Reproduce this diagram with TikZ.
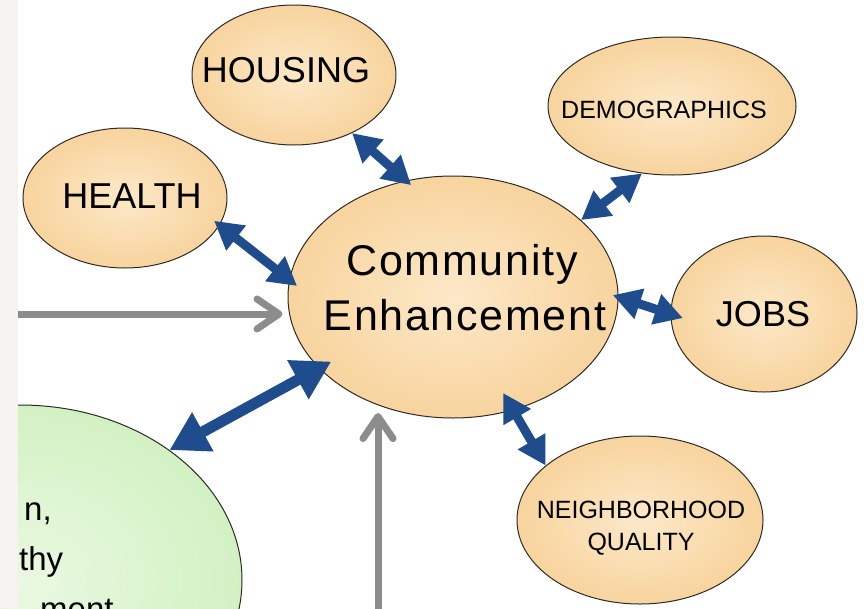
\documentclass[tikz,border=0pt]{standalone}
\usepackage{fontspec}
\setmainfont{Liberation Sans}
\usetikzlibrary{arrows.meta,shapes.geometric}
\definecolor{peachO}{HTML}{F8D49E}
\definecolor{peachI}{HTML}{FCE8C8}
\definecolor{greenO}{HTML}{D2F1C2}
\definecolor{greenI}{HTML}{EAF9E2}
\definecolor{blueA}{HTML}{1F4C8C}
\definecolor{greyA}{HTML}{8C8C8C}
\definecolor{stripC}{HTML}{F5F3F0}
\definecolor{edgeC}{HTML}{2E2A26}
\begin{document}
\begin{tikzpicture}[x=1pt,y=-1pt,
  bubble/.style={ellipse, draw=edgeC, line width=1pt, inner sep=0pt,
    shade, inner color=peachI, outer color=peachO},
  gbubble/.style={ellipse, draw=edgeC, line width=1pt, inner sep=0pt,
    shade, inner color=greenI, outer color=greenO},
  bigtxt/.style={anchor=base, inner sep=0pt, font=\fontsize{36}{40}\selectfont},
  smalltxt/.style={anchor=base, inner sep=0pt, font=\fontsize{25}{28}\selectfont},
  cetxt/.style={anchor=base, inner sep=0pt, font=\fontsize{43}{46}\selectfont\addfontfeatures{LetterSpace=4}},
  gtxt/.style={anchor=base west, inner sep=0pt, font=\fontsize{33}{36}\selectfont},
  barrow/.style={draw=blueA, line width=9pt, {Triangle[length=28pt,width=30pt]}-{Triangle[length=28pt,width=30pt]}},
  bigarrow/.style={draw=blueA, line width=11pt, {Triangle[length=38pt,width=42pt]}-{Triangle[length=38pt,width=42pt]}},
  garrow/.style={draw=greyA, line width=7pt, -{Straight Barb[length=22pt,width=30pt,round]}}
]
\useasboundingbox (0,0) rectangle (867,608);
\clip (0,0) rectangle (867,608);
\fill[white] (0,0) rectangle (867,608);

% ellipses
\node[gbubble, minimum width=444pt, minimum height=350pt] (gr) at (20,580) {};
\node[bubble, minimum width=330pt, minimum height=242pt] (ce) at (453,297) {};
\node[bubble, minimum width=204pt, minimum height=140pt] (ho) at (294,75) {};
\node[bubble, minimum width=204pt, minimum height=140pt] (he) at (125,198) {};
\node[bubble, minimum width=248pt, minimum height=138pt] (de) at (672,106) {};
\node[bubble, minimum width=186pt, minimum height=156pt] (jo) at (764,314) {};
\node[bubble, minimum width=246pt, minimum height=168pt] (ne) at (640,520) {};

% labels
\node[cetxt] (cet1) at (462,275) {Community};
\node[cetxt] (cet2) at (465,330) {Enhancement};
\node[bigtxt] (hot) at (286,82) {HOUSING};
\node[bigtxt] (het) at (132,208) {HEALTH};
\node[bigtxt] (jot) at (763,326) {JOBS};
\node[smalltxt] (det) at (664,118) {DEMOGRAPHICS};
\node[smalltxt] (net1) at (641,518) {NEIGHBORHOOD};
\node[smalltxt] (net2) at (641,550) {QUALITY};
\node[gtxt] (gt1) at (24,520) {n,};
\node[gtxt] (gt2) at (19,570) {thy};
\node[gtxt] (gt3) at (40,620) {ment};

% blue double arrows
\draw[barrow, shorten >=-7pt] (ho.-45) -- (ce.112);
\draw[barrow, shorten <=-7pt, shorten >=-10pt] (he.-16) -- (ce.174);
\draw[barrow] (de.246) -- (ce.31);
\draw[barrow, shorten <=-6pt, shorten >=-13pt] (ce.east) -- (jo.west);
\draw[barrow, shorten >=-20pt] (ne.150) -- (ce.-62);
\draw[bigarrow, shorten >=-14pt] (gr.41) -- (ce.208);

% grey arrows
\coordinate (gA) at (18,314);
\coordinate (gB) at (378,615);
\draw[garrow, shorten >=5pt] (gA) -- (gA -| ce.west);
\draw[garrow, shorten >=8pt] (gB) -- (gB |- ce.235);

% left strip
\fill[stripC] (0,0) rectangle (17.5,608);
\end{tikzpicture}
\end{document}
